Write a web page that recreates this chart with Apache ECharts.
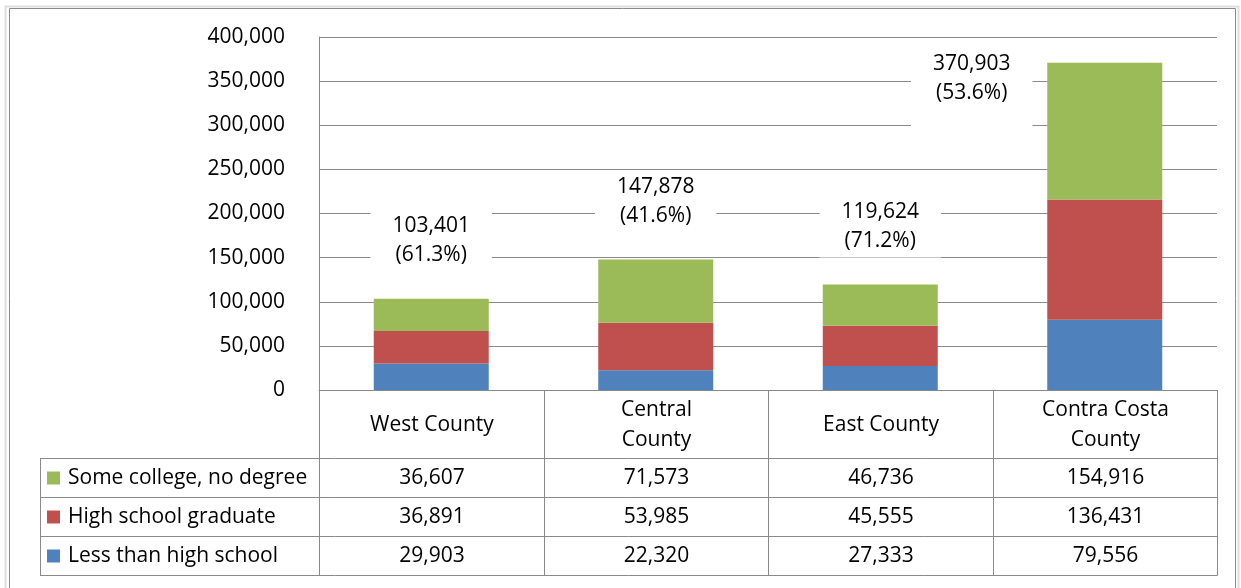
<!DOCTYPE html>
<html>
<head>
<meta charset="utf-8">
<script src="https://cdn.jsdelivr.net/npm/echarts@6/dist/echarts.min.js"></script>
<style>
  html, body { margin: 0; padding: 0; background: #fff; }
  #main { width: 1241px; height: 588px; }
</style>
</head>
<body>
<div id="main"></div>
<script>
// data
var regions = ['West County', 'Central\nCounty', 'East County', 'Contra Costa\nCounty'];
var lessThanHS = [29903, 22320, 27333, 79556];
var hsGraduate = [36891, 53985, 45555, 136431];
var someCollege = [36607, 71573, 46736, 154916];
var shares = ['61.3%', '41.6%', '71.2%', '53.6%'];
var seriesNames = ['Less than high school', 'High school graduate', 'Some college, no degree'];

var colors = ['#4F81BD', '#C0504D', '#9BBB59'];
var gridColor = '#8a8a8a';
var font = '"Open Sans"';
var fontSize = 21;

function fmt(v) { return v.toLocaleString('en-US'); }

var totals = regions.map(function (r, i) {
    return lessThanHS[i] + hsGraduate[i] + someCollege[i];
});

var chart = echarts.init(document.getElementById('main'));

chart.setOption({
    animation: false,
    textStyle: { fontFamily: font },
    grid: { left: 319, right: 24, top: 37, bottom: 198 },
    xAxis: {
        type: 'category',
        data: regions,
        axisLine: { lineStyle: { color: gridColor } },
        axisTick: { show: false },
        axisLabel: { show: false }
    },
    yAxis: {
        type: 'value',
        min: 0,
        max: 400000,
        interval: 50000,
        axisLine: { show: true, lineStyle: { color: gridColor } },
        axisTick: { show: false },
        splitLine: { lineStyle: { color: gridColor } },
        axisLabel: {
            margin: 34,
            color: '#000',
            fontSize: fontSize,
            fontFamily: font,
            formatter: function (v) { return fmt(v); }
        }
    },
    series: [
        {
            name: seriesNames[0], type: 'bar', stack: 'all', barWidth: 115,
            itemStyle: { color: colors[0] }, data: lessThanHS
        },
        {
            name: seriesNames[1], type: 'bar', stack: 'all', barWidth: 115,
            itemStyle: { color: colors[1] }, data: hsGraduate
        },
        {
            name: seriesNames[2], type: 'bar', stack: 'all', barWidth: 115,
            itemStyle: { color: colors[2] },
            label: {
                show: true,
                position: 'top',
                distance: 27,
                color: '#000',
                fontSize: fontSize,
                fontFamily: font,
                lineHeight: 29,
                align: 'center',
                backgroundColor: '#fff',
                padding: [2, 22],
                formatter: function (p) {
                    return fmt(totals[p.dataIndex]) + '\n(' + shares[p.dataIndex] + ')';
                }
            },
            data: someCollege.map(function (v, i) {
                // last label sits to the left of its bar in the original
                if (i === 3) {
                    return { value: v, label: { offset: [-133, 102], padding: [6, 22, 30, 22] } };
                }
                return v;
            })
        }
    ]
});

// data table under the plot
var rowEdges = [390, 458, 497, 536, 575];
var leftX = 40;
var c0 = chart.convertToPixel({ xAxisIndex: 0 }, 0);
var c1 = chart.convertToPixel({ xAxisIndex: 0 }, 1);
var band = c1 - c0;
var colEdges = [];
for (var i = 0; i <= regions.length; i++) colEdges.push(Math.round(c0 - band / 2 + i * band) + 0.5);
var right = colEdges[colEdges.length - 1];

var tableRows = [
    { name: seriesNames[2], color: colors[2], values: someCollege },
    { name: seriesNames[1], color: colors[1], values: hsGraduate },
    { name: seriesNames[0], color: colors[0], values: lessThanHS }
];

var lineStyle = { stroke: gridColor, lineWidth: 1 };
var cellFont = fontSize + 'px ' + font;
var g = [];

// outer frame
g.push({ type: 'rect', shape: { x: 5.5, y: 6.5, width: 1233, height: 600 }, style: { fill: null, stroke: '#dedede', lineWidth: 2 }, silent: true });
g.push({ type: 'rect', shape: { x: 9.5, y: 8.5, width: 1226, height: 600 }, style: { fill: null, stroke: '#8a8a8a', lineWidth: 1 }, silent: true });

for (var r = 1; r < rowEdges.length; r++) {
    g.push({ type: 'line', shape: { x1: leftX, y1: rowEdges[r] + 0.5, x2: right, y2: rowEdges[r] + 0.5 }, style: lineStyle });
}
colEdges.forEach(function (x) {
    g.push({ type: 'line', shape: { x1: x, y1: rowEdges[0], x2: x, y2: rowEdges[4] + 0.5 }, style: lineStyle });
});
g.push({ type: 'line', shape: { x1: leftX + 0.5, y1: rowEdges[1], x2: leftX + 0.5, y2: rowEdges[4] + 0.5 }, style: lineStyle });

// header row
regions.forEach(function (name, i) {
    g.push({
        type: 'text',
        x: (colEdges[i] + colEdges[i + 1]) / 2,
        y: (rowEdges[0] + rowEdges[1]) / 2 + 1,
        style: { text: name, fill: '#000', font: cellFont, align: 'center', verticalAlign: 'middle', lineHeight: 30 }
    });
});

// value rows
tableRows.forEach(function (row, r) {
    var cy = (rowEdges[r + 1] + rowEdges[r + 2]) / 2 + 1;
    g.push({ type: 'rect', shape: { x: 47, y: cy - 7, width: 13, height: 13 }, style: { fill: row.color } });
    g.push({
        type: 'text', x: 68, y: cy,
        style: { text: row.name, fill: '#000', font: cellFont, align: 'left', verticalAlign: 'middle' }
    });
    row.values.forEach(function (v, i) {
        g.push({
            type: 'text',
            x: (colEdges[i] + colEdges[i + 1]) / 2,
            y: cy,
            style: { text: fmt(v), fill: '#000', font: cellFont, align: 'center', verticalAlign: 'middle' }
        });
    });
});

chart.setOption({ graphic: g });
</script>
</body>
</html>
